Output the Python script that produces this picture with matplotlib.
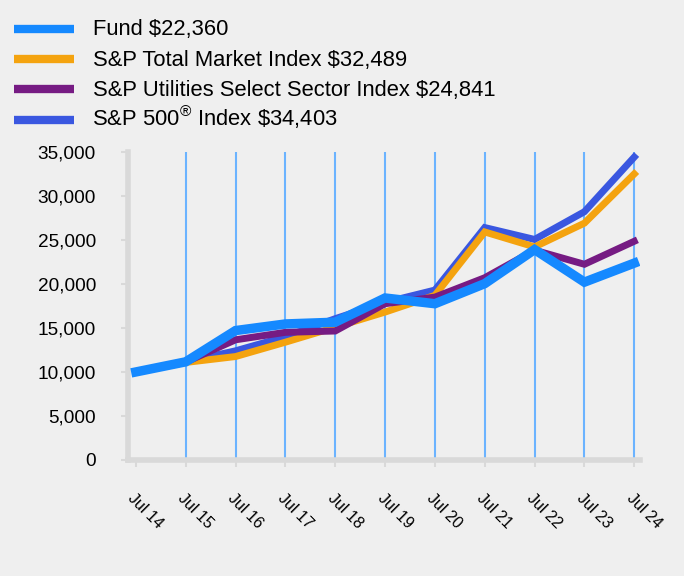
import numpy as np
import matplotlib.pyplot as plt
from matplotlib.lines import Line2D

plt.rcParams['font.family'] = ['Liberation Sans', 'DejaVu Sans']
plt.rcParams['mathtext.fontset'] = 'custom'
plt.rcParams['mathtext.rm'] = 'Liberation Sans'

# data
years = ["Jul 14", "Jul 15", "Jul 16", "Jul 17", "Jul 18", "Jul 19",
         "Jul 20", "Jul 21", "Jul 22", "Jul 23", "Jul 24"]
fund = [10000, 11150, 14700, 15450, 15650, 18400, 17750, 20030, 23900, 20200, 22360]
total_market = [10000, 11080, 11750, 13380, 15080, 16800, 18700, 25900, 24200, 26900, 32489]
utilities = [10000, 11120, 13650, 14500, 14650, 17750, 18500, 20700, 23830, 22230, 24841]
sp500 = [10000, 11150, 12400, 14000, 16050, 17900, 19300, 26400, 25050, 28200, 34403]

labels = ["Fund \\$22,360", "S&P Total Market Index \\$32,489",
          "S&P Utilities Select Sector Index \\$24,841",
          "S&P 500$^{\\mathrm{®}}$ Index \\$34,403"]
colors = ["#1589FF", "#F4A30F", "#761B83", "#3A57E0"]

bg = "#EFEFEF"
W, H = 684, 576
fig = plt.figure(figsize=(W / 100, H / 100), dpi=100, facecolor=bg)
ax = fig.add_axes([0.187, 0.2014, 0.749, 0.535], facecolor=bg)

x = np.arange(len(years))

# vertical grid lines (none on the first one)
for xi in x[1:]:
    ax.axvline(xi, color="#6BB3FF", lw=1.5, zorder=1)

ax.plot(x, sp500, color=colors[3], lw=5, zorder=2, solid_joinstyle="miter")
ax.plot(x, total_market, color=colors[1], lw=5, zorder=3, solid_joinstyle="miter")
ax.plot(x, utilities, color=colors[2], lw=5, zorder=4, solid_joinstyle="miter")
ax.plot(x, fund, color=colors[0], lw=6.8, zorder=5, solid_joinstyle="miter")

ax.set_xlim(-0.16, 10.12)
ax.set_ylim(0, 35000)
ax.set_yticks(np.arange(0, 35001, 5000))
ax.set_yticklabels([f"{v:,}" for v in range(0, 35001, 5000)], fontsize=13.7)
ax.set_xticks(x)
ax.set_xticklabels(years, rotation=-45, ha="left", va="top",
                   rotation_mode="anchor", fontsize=11.5)

for s in ["top", "right"]:
    ax.spines[s].set_visible(False)
for s in ["left", "bottom"]:
    ax.spines[s].set_color("#D9D9D9")
    ax.spines[s].set_linewidth(4)
ax.tick_params(axis="y", length=5, width=1.5, color="#D9D9D9", pad=18)
ax.tick_params(axis="x", length=5, width=1.5, color="#D9D9D9", pad=17)

# legend drawn by hand so the row with the superscript keeps the same spacing
for i, (lab, c) in enumerate(zip(labels, colors)):
    yc = 29 + 30.2 * i
    fig.add_artist(Line2D([14 / W, 74 / W], [1 - yc / H, 1 - yc / H],
                          color=c, lw=6, solid_capstyle="butt",
                          transform=fig.transFigure))
    tx = 91.5 if "mathrm" in lab else 93  # mathtext adds a little lead-in
    fig.text(tx / W, 1 - (yc + 6.5) / H, lab, fontsize=15.8,
             va="baseline", ha="left")

fig.savefig("out.png", dpi=100, facecolor=bg)
